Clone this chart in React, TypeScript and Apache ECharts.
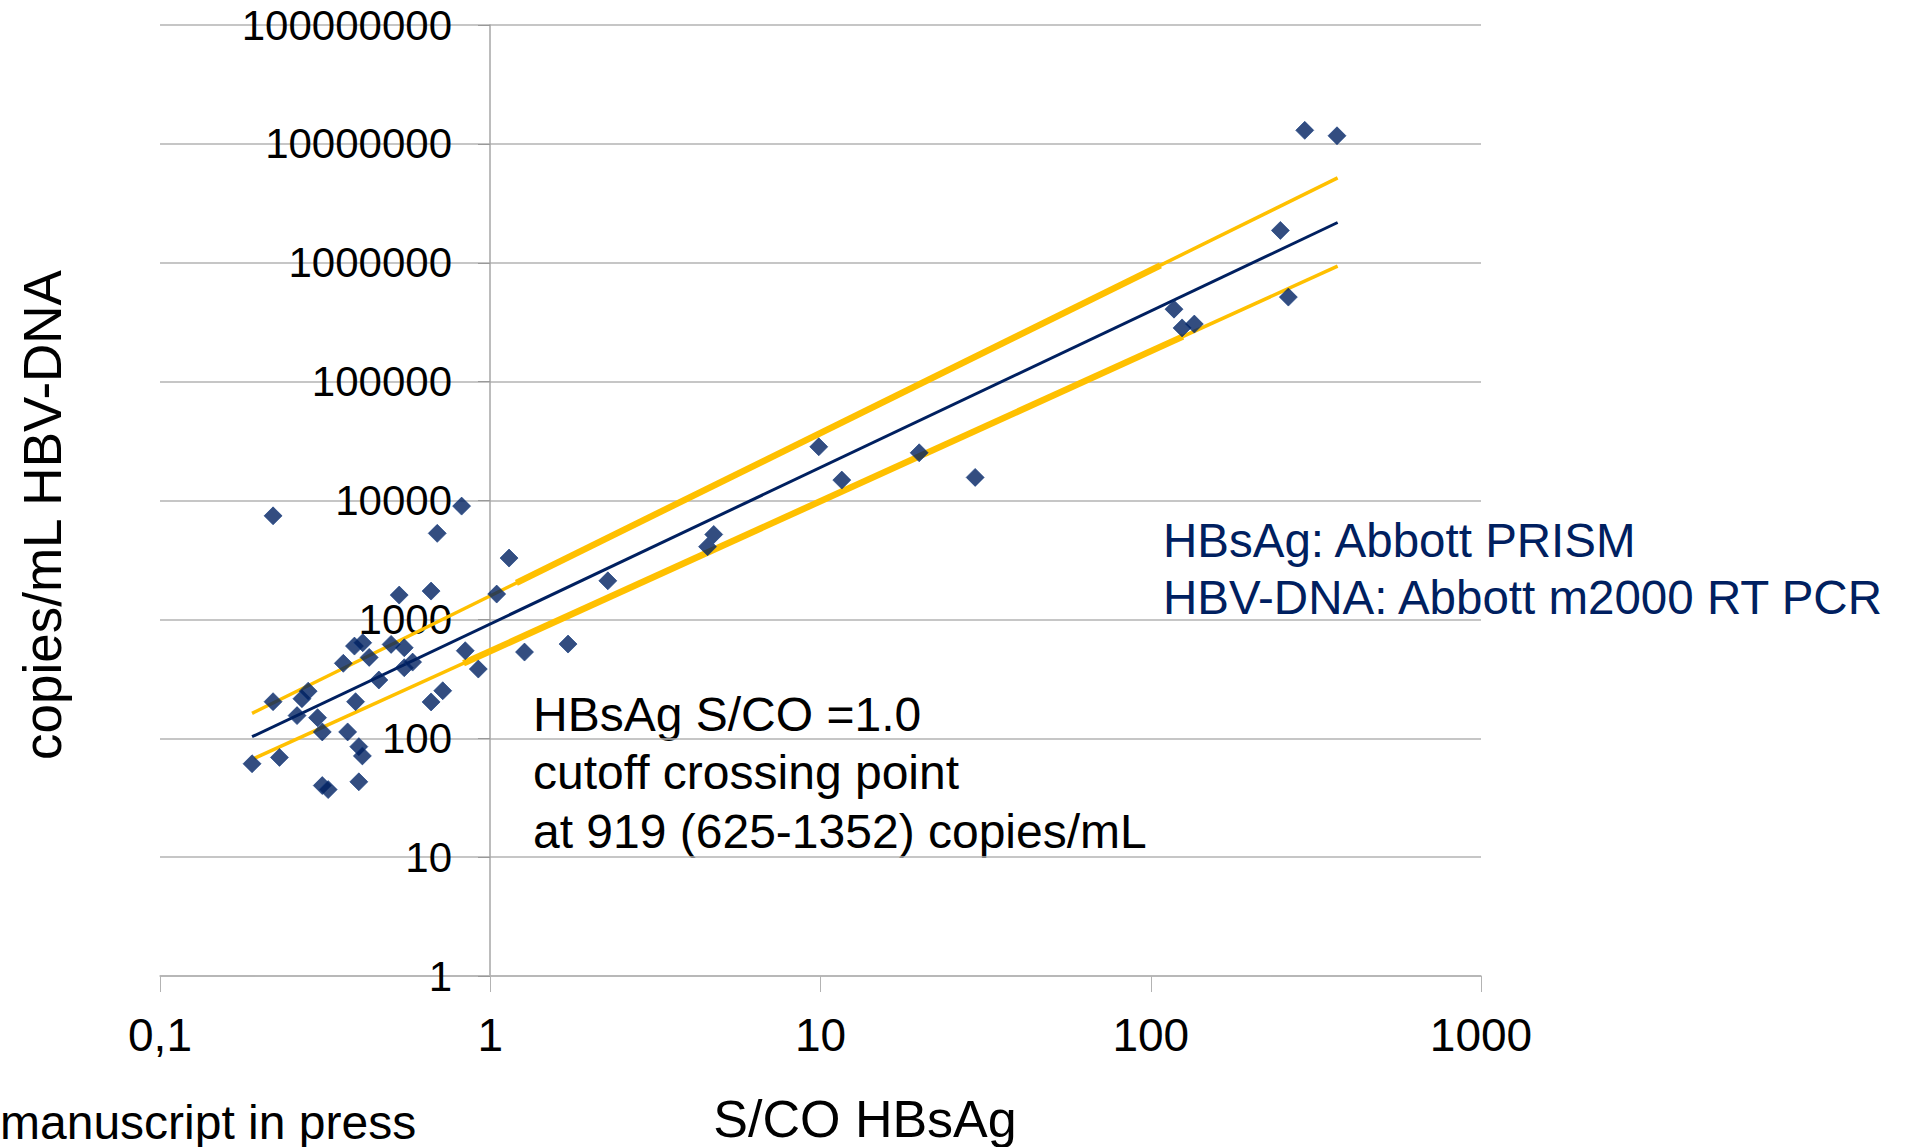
import React, { useEffect, useRef } from 'react';
import * as echarts from 'echarts';

// S/CO HBsAg (x) and copies/mL HBV-DNA (y) for each sample
const scoValues = [
  0.220, 0.819, 0.691, 1.14, 1.046, 0.530, 0.662, 0.388, 0.411, 0.501,
  0.549, 0.359, 0.430, 0.840, 1.27, 1.72, 0.549, 0.582, 0.920, 0.460,
  0.718, 0.662, 0.220, 0.269, 0.281, 0.391, 0.260, 0.300, 0.310, 0.370,
  0.190, 0.230, 0.400, 0.410, 0.310, 0.323, 0.400, 2.27, 4.55, 4.75,
  9.88, 11.6, 19.9, 29.4, 117.6, 124.4, 135.5, 246.9, 261, 292.6, 366.4,
];
const dnaValues = [
  7430, 8970, 5290, 3280, 1633, 1601, 1730, 596, 636, 616,
  577, 427, 479, 545, 531, 620, 392, 437, 382, 309,
  251, 202, 203, 215, 249, 203, 155, 149, 113, 113,
  61, 69, 85, 71, 40, 37, 43, 2110, 4090, 5180,
  28300, 14850, 25200, 15640, 407000, 283000, 305000, 1870000, 514000, 13000000, 11700000,
];

// regression line and confidence bounds (end points)
const fitX = [0.19, 368];
const fitY = [103, 2180000];
const upperX = [0.19, 368];
const upperY = [162, 5180000];
const lowerX = [0.193, 368];
const lowerY = [67.8, 936000];
// thicker middle parts of the bound lines
const upperThickX = [1.2, 107];
const upperThickY = [2030, 950000];
const lowerThickX = [0.83, 125];
const lowerThickY = [427, 239000];

const xTickValues = [0.1, 1, 10, 100, 1000];
const xTickLabels = ['0,1', '1', '10', '100', '1000'];

const yTitle = 'copies/mL HBV-DNA';
const xTitle = 'S/CO HBsAg';
const footNote = 'manuscript in press';
const noteLines = ['HBsAg S/CO =1.0', 'cutoff crossing point', 'at 919 (625-1352) copies/mL'];
const methodLines = ['HBsAg: Abbott PRISM', 'HBV-DNA: Abbott m2000 RT PCR'];

const FONT = "'Liberation Sans', Arial, sans-serif";
const NAVY = '#002060';
const GOLD = '#FFC000';
const GRID = '#b3b3b3';

function pairs(xs: number[], ys: number[]) {
  return xs.map((x, i) => [x, ys[i]]);
}

export default function App() {
  const ref = useRef<HTMLDivElement>(null);
  useEffect(() => {
    if (!ref.current) return;
    const chart = echarts.init(ref.current, null, { renderer: 'svg' });
    const lineSeries = (name: string, data: number[][], color: string, width: number) => ({
      name,
      type: 'line',
      data,
      showSymbol: false,
      symbol: 'none',
      lineStyle: { color, width },
      z: 2,
    });
    chart.setOption({
      animation: false,
      backgroundColor: '#ffffff',
      grid: { left: 160, right: 432, top: 25, bottom: 171, containLabel: false },
      xAxis: {
        type: 'log',
        logBase: 10,
        min: 0.1,
        max: 1000,
        splitNumber: 4,
        axisLine: { show: true, lineStyle: { color: GRID, width: 1.5 } },
        axisTick: { show: true, length: 16, lineStyle: { color: GRID, width: 1 } },
        minorTick: { show: false },
        splitLine: { show: false },
        axisLabel: {
          margin: 36,
          fontSize: 46,
          lineHeight: 46,
          color: '#000',
          fontFamily: FONT,
          formatter: (v: number) => {
            const i = xTickValues.findIndex((t) => Math.abs(Math.log10(t) - Math.log10(v)) < 1e-6);
            return i >= 0 ? xTickLabels[i] : '';
          },
        },
      },
      yAxis: {
        type: 'log',
        logBase: 10,
        min: 1,
        max: 100000000,
        splitNumber: 8,
        position: 'left',
        offset: -330,
        axisLine: { show: true, lineStyle: { color: '#a6a6a6', width: 1.5 } },
        axisTick: { show: true, length: 12, lineStyle: { color: '#999', width: 1 } },
        splitLine: { show: true, lineStyle: { color: GRID, width: 1.5 } },
        axisLabel: {
          margin: 38,
          fontSize: 42,
          color: '#000',
          fontFamily: FONT,
          formatter: (v: number) => String(Math.round(v)),
        },
      },
      series: [
        lineSeries('upper', pairs(upperX, upperY), GOLD, 3.5),
        lineSeries('upperThick', pairs(upperThickX, upperThickY), GOLD, 6.5),
        lineSeries('lower', pairs(lowerX, lowerY), GOLD, 3.5),
        lineSeries('lowerThick', pairs(lowerThickX, lowerThickY), GOLD, 6.5),
        lineSeries('fit', pairs(fitX, fitY), NAVY, 3),
        {
          name: 'samples',
          type: 'scatter',
          symbol: 'diamond',
          symbolSize: 18,
          data: pairs(scoValues, dnaValues),
          itemStyle: { color: NAVY, borderColor: '#123a80', borderWidth: 0.8 },
          z: 3,
        },
      ],
      graphic: [
        {
          type: 'text',
          x: 42,
          y: 515,
          rotation: Math.PI / 2,
          style: { text: yTitle, fontSize: 53, fontFamily: FONT, fill: '#000', align: 'center', verticalAlign: 'middle' },
        },
        {
          type: 'text',
          x: 865,
          y: 1119,
          style: { text: xTitle, fontSize: 52, fontFamily: FONT, fill: '#000', align: 'center', verticalAlign: 'middle' },
        },
        {
          type: 'text',
          x: 0,
          y: 1122,
          style: { text: footNote, fontSize: 48, fontFamily: FONT, fill: '#000', align: 'left', verticalAlign: 'middle' },
        },
        ...noteLines.map((t, i) => ({
          type: 'text',
          x: 533,
          y: 714 + i * 58.6,
          style: { text: t, fontSize: 48, fontFamily: FONT, fill: '#000', align: 'left', verticalAlign: 'middle' },
        })),
        ...methodLines.map((t, i) => ({
          type: 'text',
          x: 1163,
          y: 540 + i * 57,
          style: { text: t, fontSize: 47.5, fontFamily: FONT, fill: NAVY, align: 'left', verticalAlign: 'middle' },
        })),
      ],
    });
    return () => chart.dispose();
  }, []);
  return (
    <div
      ref={ref}
      style={{ position: 'fixed', left: 0, top: 0, width: 1913, height: 1147, background: '#fff' }}
    />
  );
}
